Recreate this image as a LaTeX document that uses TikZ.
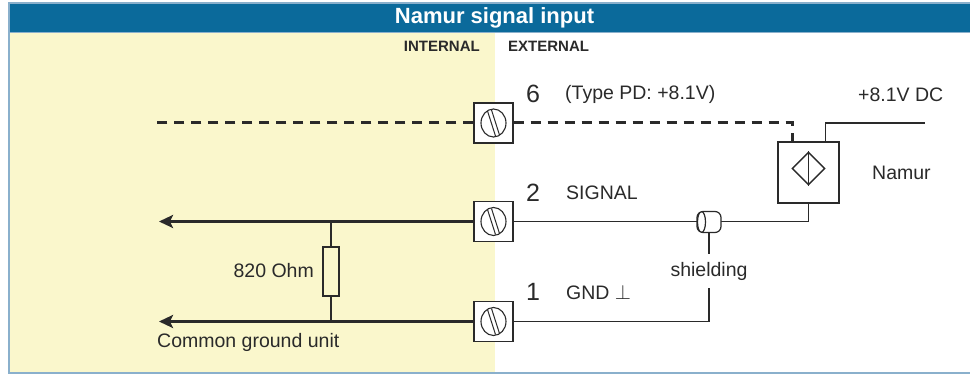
\documentclass[tikz,border=0pt]{standalone}
\usepackage{fontspec}
\setmainfont{Liberation Sans}
\usetikzlibrary{positioning,arrows.meta,shapes.geometric}
\definecolor{titleblue}{HTML}{0B6A9B}
\definecolor{panelyellow}{HTML}{FAF7CC}
\definecolor{frameblue}{HTML}{8AB0CC}
\definecolor{inkgrey}{HTML}{2A2A2A}
\tikzset{
  txt/.style={text=inkgrey, inner sep=0pt, font=\fontsize{19.5}{22}\selectfont},
  pinno/.style={text=inkgrey, inner sep=0pt, font=\fontsize{25}{27}\selectfont},
  side/.style={text=inkgrey, inner sep=0pt, font=\fontsize{15}{17}\selectfont\bfseries},
  wire/.style={draw=inkgrey, line width=1.4pt},
  dashline/.style={draw=inkgrey, line width=3pt, dash pattern=on 10pt off 7pt},
  bus/.style={draw=inkgrey, line width=3pt, -{Stealth[length=14pt,width=13pt,inset=3pt]}},
  screw/.style={draw=inkgrey, fill=white, line width=1.2pt, minimum width=39pt, minimum height=40pt, inner sep=0pt,
    path picture={
      \draw[inkgrey, line width=1.1pt] (path picture bounding box.center) ellipse (12.5pt and 14pt);
      \draw[inkgrey, line width=1pt] ([shift={(-6pt,12pt)}]path picture bounding box.center) -- ([shift={(2pt,-13pt)}]path picture bounding box.center);
      \draw[inkgrey, line width=1pt] ([shift={(-2pt,13pt)}]path picture bounding box.center) -- ([shift={(6pt,-12pt)}]path picture bounding box.center);
    }},
  sensor/.style={draw=inkgrey, fill=white, line width=1.4pt, minimum size=61pt, inner sep=0pt},
  sensorsym/.style={diamond, draw=inkgrey, line width=1.4pt, minimum width=33pt, minimum height=33pt, inner sep=0pt},
  shieldcap/.style={draw=inkgrey, fill=white, line width=1.2pt, rounded corners=6pt,
    minimum width=24pt, minimum height=21pt, inner sep=0pt,
    path picture={
      \draw[inkgrey, line width=1.2pt] ([xshift=4.5pt]path picture bounding box.west) ellipse (4pt and 10.5pt);
    }},
  res/.style={draw=inkgrey, fill=panelyellow, line width=1.2pt, minimum width=16pt, minimum height=49pt, inner sep=0pt},
}
\begin{document}
\begin{tikzpicture}[x=1pt,y=-1pt]
  \useasboundingbox (0,0) rectangle (970,374);
  % frame, panels and title
  \fill[white] (8,3) rectangle (970,373);
  \fill[panelyellow] (9.5,32) rectangle (495,372);
  \fill[titleblue] (8,3) rectangle (970,32);
  \draw[frameblue, line width=1.2pt] (9.5,32.5) -- (970,32.5);
  \draw[frameblue, line width=1.5pt] (970,3) -- (8.75,3) -- (8.75,372.75) -- (970,372.75);
  \node[text=white, font=\fontsize{22}{24}\selectfont\bfseries] (title) at (494.5,17.5) {Namur signal input};
  \node[side, anchor=east] (intlbl) at (480,46) {INTERNAL};
  \node[side, anchor=west] (extlbl) at (508,46) {EXTERNAL};

  % terminals
  \node[screw] (t6) at (493.5,123) {};
  \node[screw] (t2) at (493.5,221.5) {};
  \node[screw] (t1) at (493.5,321.5) {};
  \node[pinno] (n6) at (533,94) {6};
  \node[pinno] (n2) at (533,193) {2};
  \node[pinno] (n1) at (533,292) {1};
  \node[txt, anchor=west] (typepd) at (565,94) {(Type PD: +8.1V)};
  \node[txt, anchor=west] (siglbl) at (566,193) {SIGNAL};
  \node[txt, anchor=west] (gndlbl) at (566,292) {GND $\perp$};

  % namur sensor
  \node[sensor] (namur) at (808.5,172.5) {};
  \node[sensorsym] (sym) at (808.5,168.5) {};
  \draw[wire] (sym.north) -- (sym.south);
  \node[txt, anchor=west] (namurlbl) at (872,173) {Namur};
  \node[txt, anchor=west] (supplylbl) at (858,95) {+8.1V DC};
  \coordinate (supply) at (925,123);

  % external wiring
  \draw[dashline] (t6.east) -| ([xshift=-16pt]namur.north);
  \draw[wire] ([xshift=17pt]namur.north) |- (supply);
  \draw[wire] (namur.south) |- (t2.east);
  \node[shieldcap] (shield) at (709,222) {};
  \node[txt, inner ysep=8pt] (shieldlbl) at (709,271) {shielding};
  \draw[wire] (shield.south) -- (shieldlbl.north);
  \draw[wire] (shieldlbl.south) |- (t1.east);

  % internal side
  \coordinate (dashend) at (157,123);
  \coordinate (sigout) at (159,221.5);
  \coordinate (gndout) at (159,321.5);
  \draw[dashline] (t6.west) -- (dashend);
  \draw[bus] (t2.west) -- (sigout);
  \draw[bus] (t1.west) -- (gndout);
  \node[res] (r820) at (331,271.5) {};
  \draw[wire] (r820.north) -- (r820.north |- t2.west);
  \draw[wire] (r820.south) -- (r820.south |- t1.west);
  \node[txt, anchor=east] (reslbl) at (314,271) {820 Ohm};
  \node[txt, anchor=west] (gndunit) at (157,342) {Common ground unit};
\end{tikzpicture}
\end{document}
